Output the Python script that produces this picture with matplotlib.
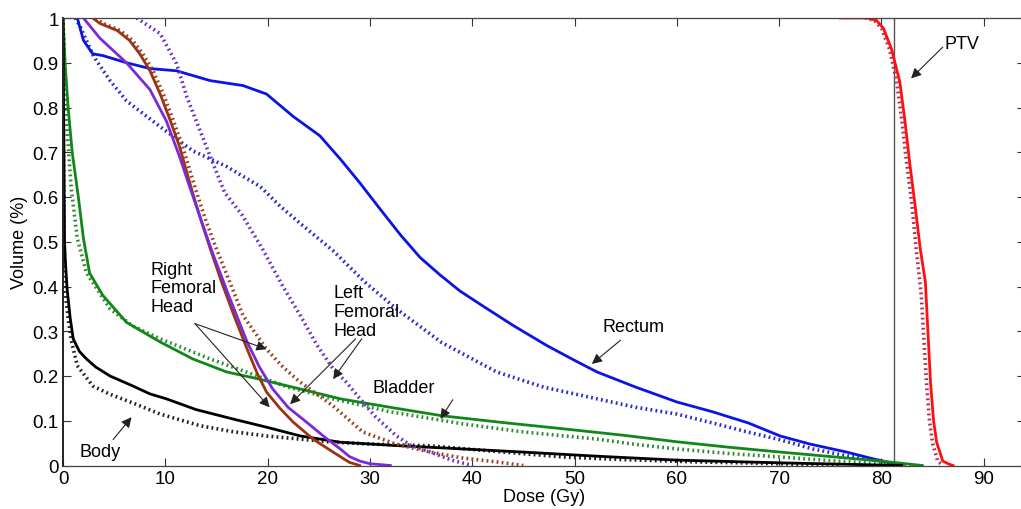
import matplotlib
matplotlib.use("Agg")
import matplotlib.pyplot as plt

# dose (Gy) / volume fraction pairs
rectum_x = [1.4, 2.0, 2.9, 3.9, 6.2, 8.5, 11.1, 14.4, 17.6, 19.9, 21.2, 22.5, 25.1, 27.1, 29.0, 31.0, 33.0, 34.9,
            36.9, 38.8, 40.8, 42.5, 44.0, 47.3, 50.0, 52.2, 56.0, 60.0, 63.5, 67.0, 70.1, 73.0, 76.6, 79.0, 80.5, 82.0]
rectum_y = [1.0, 0.95, 0.92, 0.916, 0.90, 0.887, 0.882, 0.86, 0.849, 0.83, 0.805, 0.78, 0.737, 0.685, 0.632, 0.573, 0.515, 0.465,
            0.425, 0.39, 0.36, 0.335, 0.313, 0.268, 0.235, 0.209, 0.175, 0.142, 0.12, 0.095, 0.066, 0.048, 0.03, 0.016, 0.008, 0.0]
rectum_ref_x = [1.2, 1.7, 3.0, 4.6, 6.2, 9.5, 12.7, 16.0, 19.3, 21.2, 23.5, 26.4, 29.5, 32.6, 37.0, 42.4, 47.0, 52.2,
                56.0, 60.0, 63.5, 66.9, 70.0, 73.3, 76.5, 79.9, 82.0]
rectum_ref_y = [1.0, 0.98, 0.914, 0.86, 0.815, 0.757, 0.703, 0.668, 0.623, 0.58, 0.535, 0.48, 0.41, 0.35, 0.275, 0.209, 0.175, 0.149,
                0.13, 0.115, 0.095, 0.075, 0.058, 0.037, 0.022, 0.01, 0.0]

bladder_x = [0, 0.2, 0.5, 0.9, 1.5, 2.0, 2.6, 3.9, 6.2, 9.5, 12.7, 16.0, 19.0, 23.2, 27.1, 32.0, 37.1, 43.0,
             48.9, 55.0, 60.0, 65.0, 70.1, 75.0, 79.9, 84.0]
bladder_y = [1.0, 0.9, 0.8, 0.7, 0.6, 0.507, 0.43, 0.38, 0.32, 0.276, 0.238, 0.209, 0.194, 0.171, 0.149, 0.13, 0.111, 0.096,
             0.082, 0.067, 0.053, 0.041, 0.03, 0.02, 0.01, 0.0]
bladder_ref_x = [0, 0.15, 0.4, 0.8, 1.4, 2.3, 4.6, 6.8, 9.5, 14.4, 19.0, 22.0, 26.4, 32.0, 39.1, 45.0, 52.2, 56.0,
                 60.0, 65.0, 70.1, 75.0, 79.0, 83.0]
bladder_ref_y = [1.0, 0.9, 0.75, 0.62, 0.507, 0.43, 0.35, 0.312, 0.283, 0.238, 0.2, 0.175, 0.149, 0.12, 0.093, 0.075, 0.059, 0.047,
                 0.037, 0.027, 0.019, 0.011, 0.005, 0.0]

body_x = [0, 0.15, 0.25, 0.4, 0.7, 1.0, 1.6, 2.3, 3.2, 4.6, 6.8, 8.5, 10.1, 13.0, 16.6, 20.0, 23.2, 27.1, 33.0,
          39.1, 45.0, 52.0, 60.0, 70.0, 76.0, 82.0]
body_y = [1.0, 0.5, 0.45, 0.395, 0.33, 0.283, 0.255, 0.238, 0.22, 0.2, 0.178, 0.16, 0.149, 0.125, 0.104, 0.085, 0.066, 0.052, 0.044,
          0.037, 0.03, 0.021, 0.012, 0.006, 0.003, 0.0]
body_ref_x = [0, 0.1, 0.3, 0.5, 0.8, 1.4, 2.9, 4.5, 6.8, 9.5, 13.4, 16.5, 19.9, 26.4, 30.0, 35.9, 42.0, 48.9,
              55.0, 62.0, 70.0, 76.0]
body_ref_y = [1.0, 0.45, 0.37, 0.33, 0.28, 0.223, 0.178, 0.16, 0.14, 0.115, 0.089, 0.076, 0.066, 0.052, 0.048, 0.044, 0.032, 0.019,
              0.013, 0.008, 0.004, 0.0]

rfh_x = [2.9, 3.6, 5.3, 6.5, 7.5, 8.5, 9.5, 10.5, 11.4, 12.7, 13.6, 14.4, 15.5, 16.8, 18.0, 19.0, 19.9, 21.2, 22.5,
         24.5, 26.4, 27.3, 28.0, 29.0]
rfh_y = [1.0, 0.988, 0.972, 0.95, 0.92, 0.882, 0.83, 0.77, 0.712, 0.607, 0.54, 0.484, 0.41, 0.33, 0.26, 0.205, 0.164, 0.128, 0.097,
         0.058, 0.03, 0.017, 0.007, 0.0]
rfh_ref_x = [3.2, 3.9, 5.6, 6.8, 7.8, 8.8, 9.8, 10.8, 11.7, 13.1, 14.0, 15.0, 16.3, 17.6, 19.9, 21.5, 23.2, 24.8,
             26.4, 27.8, 29.3, 32.5, 35.9, 39.0, 42.4, 45.0]
rfh_ref_y = [1.0, 0.988, 0.972, 0.95, 0.92, 0.882, 0.83, 0.77, 0.712, 0.607, 0.545, 0.484, 0.41, 0.335, 0.26, 0.22, 0.186, 0.16,
             0.133, 0.105, 0.075, 0.048, 0.03, 0.017, 0.008, 0.0]

lfh_x = [2.0, 3.6, 6.2, 8.5, 10.1, 11.4, 12.2, 13.4, 14.7, 16.2, 18.0, 19.2, 20.5, 22.0, 23.8, 25.5, 27.1, 28.0,
         29.0, 30.0, 32.0]
lfh_y = [1.0, 0.955, 0.9, 0.84, 0.77, 0.69, 0.635, 0.555, 0.47, 0.38, 0.276, 0.22, 0.171, 0.13, 0.097, 0.065, 0.037, 0.02,
         0.01, 0.004, 0.0]
lfh_ref_x = [7.2, 9.5, 11.1, 12.1, 13.4, 14.4, 15.8, 17.5, 19.5, 21.5, 23.2, 24.8, 26.4, 27.7, 29.0, 30.5, 32.6,
             34.0, 35.9, 38.0, 40.0]
lfh_ref_y = [1.0, 0.965, 0.898, 0.824, 0.748, 0.69, 0.61, 0.56, 0.484, 0.40, 0.335, 0.27, 0.216, 0.186, 0.15, 0.11, 0.066,
             0.045, 0.03, 0.012, 0.0]

ptv_x = [76.0, 78.6, 79.5, 80.2, 81.0, 81.8, 82.3, 82.8, 83.3, 83.8, 84.3, 84.8, 85.1, 85.4, 86.0, 86.5, 87.0]
ptv_y = [1.0, 1.0, 0.995, 0.977, 0.93, 0.857, 0.77, 0.67, 0.58, 0.484, 0.41, 0.186, 0.1, 0.052, 0.01, 0.004, 0.0]
ptv_ref_x = [78.4, 79.3, 80.0, 80.8, 81.5, 82.0, 82.5, 83.0, 83.4, 83.9, 84.4, 84.7, 85.0, 85.5, 86.0]
ptv_ref_y = [1.0, 0.995, 0.977, 0.93, 0.857, 0.77, 0.67, 0.58, 0.484, 0.38, 0.186, 0.1, 0.05, 0.01, 0.0]

prescription_dose = 81.2
xticks = list(range(0, 100, 10))
yticks = [0, 0.1, 0.2, 0.3, 0.4, 0.5, 0.6, 0.7, 0.8, 0.9, 1]
ytick_labels = ['0', '0.1', '0.2', '0.3', '0.4', '0.5', '0.6', '0.7', '0.8', '0.9', '1']

plt.rcParams['font.family'] = ['Liberation Sans', 'DejaVu Sans']

fig = plt.figure(figsize=(10.21, 5.10), dpi=100)
ax = fig.add_axes([63 / 1021, 43.5 / 510, 94 * 10.23 / 1021, 447.5 / 510])

dot = (0, (0.5, 0.9))
lw_solid = 2.0
lw_dot = 2.6

curves = [
    (rectum_x, rectum_y, rectum_ref_x, rectum_ref_y, '#0a14e6', '#2a2ad0'),
    (bladder_x, bladder_y, bladder_ref_x, bladder_ref_y, '#11871a', '#2f8a2f'),
    (body_x, body_y, body_ref_x, body_ref_y, '#000000', '#222222'),
    (rfh_x, rfh_y, rfh_ref_x, rfh_ref_y, '#9a3410', '#9a4020'),
    (lfh_x, lfh_y, lfh_ref_x, lfh_ref_y, '#7a2ad8', '#6a30c8'),
    (ptv_x, ptv_y, ptv_ref_x, ptv_ref_y, '#ff1010', '#c02848'),
]
for sx, sy, dx, dy, c_solid, c_dot in curves:
    ax.plot(dx, dy, color=c_dot, lw=lw_dot, linestyle=dot)
    ax.plot(sx, sy, color=c_solid, lw=lw_solid, solid_joinstyle='round')

ax.axvline(prescription_dose, color='#555555', lw=1.0, zorder=1)

ax.set_xlim(0, 94)
ax.set_ylim(0, 1)
ax.set_xticks(xticks)
ax.set_yticks(yticks)
ax.set_yticklabels(ytick_labels)
ax.tick_params(direction='in', top=True, right=True, length=6, width=0.8,
               labelsize=13.5, colors='#333333', labelcolor='black', pad=3)
for sp in ax.spines.values():
    sp.set_color('#444444')
    sp.set_linewidth(0.9)
ax.spines['left'].set_color('#222222')
ax.spines['left'].set_linewidth(1.4)

ax.set_xlabel('Dose (Gy)', fontsize=13, labelpad=1)
ax.set_ylabel('Volume (%)', fontsize=13, labelpad=3)

arrow = dict(arrowstyle='-|>', color='#222222', lw=0.8, mutation_scale=15, shrinkA=0, shrinkB=0)
ta = dict(fontsize=13, color='black')

ax.text(86.2, 0.943, 'PTV', va='center', ha='left', **ta)
ax.annotate('', xy=(82.9, 0.865), xytext=(86.0, 0.935), arrowprops=arrow)

ax.text(55.8, 0.31, 'Rectum', va='center', ha='center', **ta)
ax.annotate('', xy=(51.7, 0.227), xytext=(54.5, 0.28), arrowprops=arrow)

ax.text(33.3, 0.174, 'Bladder', va='center', ha='center', **ta)
ax.annotate('', xy=(36.9, 0.104), xytext=(38.1, 0.147), arrowprops=arrow)

ax.text(3.6, 0.032, 'Body', va='center', ha='center', **ta)
ax.annotate('', xy=(6.7, 0.108), xytext=(4.9, 0.058), arrowprops=arrow)

ax.text(8.6, 0.458, 'Right\nFemoral\nHead', va='top', ha='left', linespacing=1.15, **ta)
ax.annotate('', xy=(19.9, 0.26), xytext=(12.9, 0.317), arrowprops=arrow)
ax.annotate('', xy=(20.2, 0.13), xytext=(12.9, 0.317), arrowprops=arrow)

ax.text(26.4, 0.405, 'Left\nFemoral\nHead', va='top', ha='left', linespacing=1.15, **ta)
ax.annotate('', xy=(26.4, 0.193), xytext=(29.2, 0.283), arrowprops=arrow)
ax.annotate('', xy=(22.2, 0.137), xytext=(28.6, 0.283), arrowprops=arrow)

fig.savefig('out.png', dpi=100)
